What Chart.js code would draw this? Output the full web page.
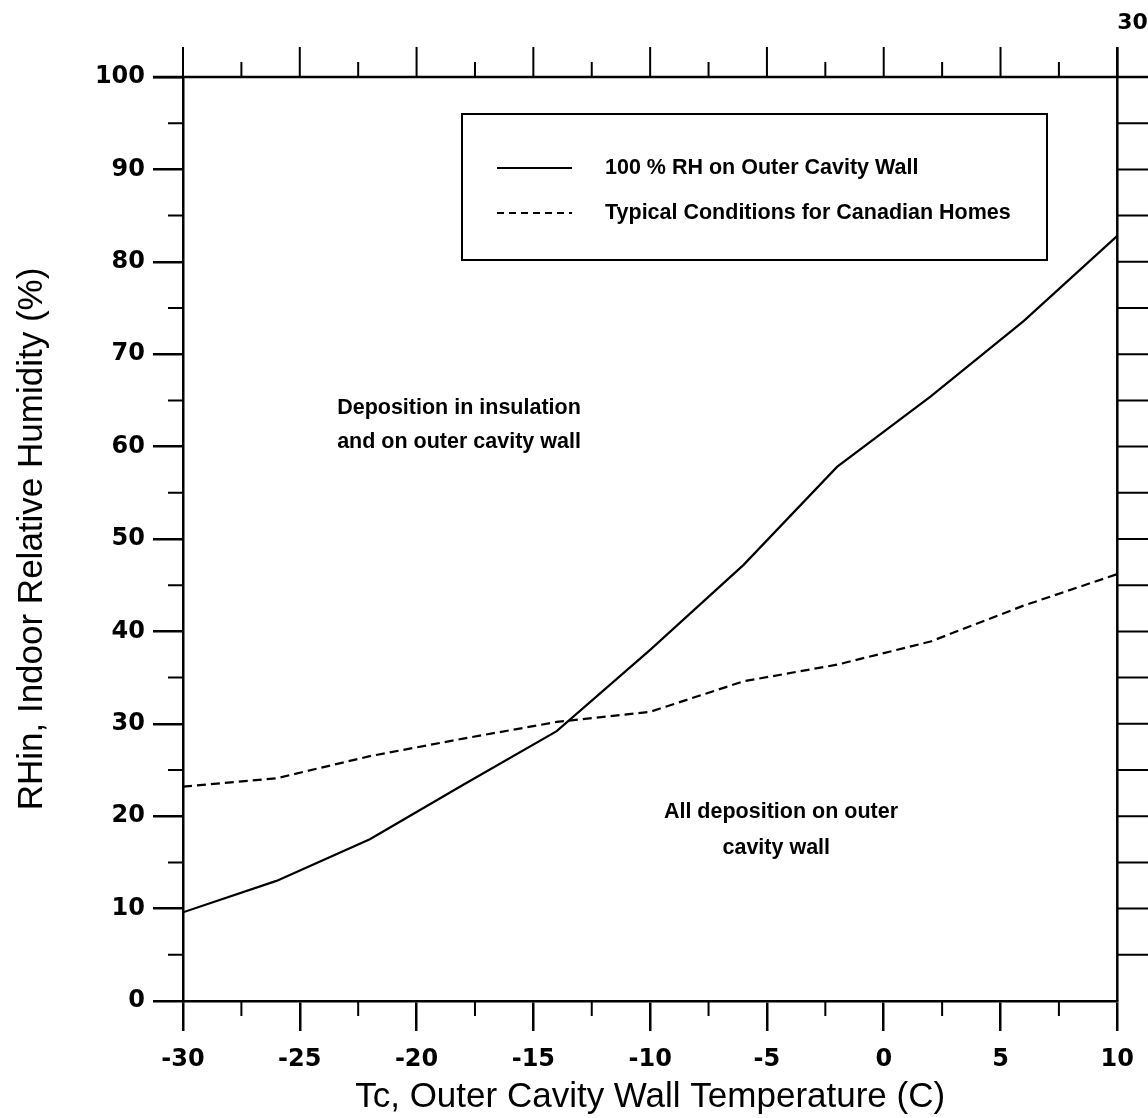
<!DOCTYPE html>
<html>
<head>
<meta charset="utf-8">
<title>Indoor RH limit vs outer cavity wall temperature</title>
<script src="https://cdn.jsdelivr.net/npm/chart.js@4.4.1/dist/chart.umd.min.js"></script>
<style>
  html, body { margin: 0; padding: 0; background: #fff; }
  #wrap { width: 1148px; height: 1118px; position: relative; }
</style>
</head>
<body>
<div id="wrap"><canvas id="rhChart"></canvas></div>
<script>
// outer cavity wall temperature (C)
const temps = [-30, -26, -22, -18, -14, -10, -6, -2, 2, 6, 10];
// indoor RH giving 100 % RH on the outer cavity wall
const rhSaturated = [9.6, 13.0, 17.5, 23.4, 29.2, 38.0, 47.2, 57.8, 65.4, 73.6, 82.8];
// typical indoor RH for Canadian homes
const rhTypical = [23.2, 24.1, 26.5, 28.4, 30.2, 31.3, 34.6, 36.4, 38.9, 42.8, 46.2];

const xTicks = [-30, -25, -20, -15, -10, -5, 0, 5, 10];
const yTicks = [0, 10, 20, 30, 40, 50, 60, 70, 80, 90, 100];
const seriesNames = ['100 % RH on Outer Cavity Wall', 'Typical Conditions for Canadian Homes'];

const tickFont = { family: 'DejaVu Sans', size: 24, weight: 'bold' };
const noteFont = 'bold 21.5px "Liberation Sans", Arial, sans-serif';

function toPoints(ys) {
    return temps.map((t, i) => ({ x: t, y: ys[i] }));
}

// ticks on the other three sides, minor ticks, legend box and region notes
const framePlugin = {
    id: 'frame',
    afterDraw(chart) {
        const ctx = chart.ctx;
        const xs = chart.scales.x;
        const ys = chart.scales.y;
        const area = chart.chartArea;
        ctx.save();
        ctx.strokeStyle = '#000';
        ctx.lineWidth = 2.5;

        // top and right borders
        ctx.beginPath();
        ctx.moveTo(area.left - 30, area.top);
        ctx.lineTo(area.right + 32, area.top);
        ctx.moveTo(area.right, area.top - 30);
        ctx.lineTo(area.right, area.bottom);
        ctx.stroke();

        ctx.lineWidth = 2;
        ctx.beginPath();
        for (let v = -30; v <= 10; v += 2.5) {
            const px = xs.getPixelForValue(v);
            const major = v % 5 === 0;
            // top side, pointing up
            ctx.moveTo(px, area.top);
            ctx.lineTo(px, area.top - (major ? 30 : 15));
            // bottom minor
            if (!major) {
                ctx.moveTo(px, area.bottom);
                ctx.lineTo(px, area.bottom + 15);
            }
        }
        for (let v = 5; v < 100; v += 10) {
            const py = ys.getPixelForValue(v);
            ctx.moveTo(area.left, py);
            ctx.lineTo(area.left - 15, py);
        }
        for (let v = 5; v < 100; v += 5) {
            const py = ys.getPixelForValue(v);
            ctx.moveTo(area.right, py);
            ctx.lineTo(area.right + 32, py);
        }
        ctx.stroke();

        ctx.fillStyle = '#000';
        ctx.font = 'bold 22px "DejaVu Sans", sans-serif';
        ctx.textAlign = 'left';
        ctx.textBaseline = 'middle';
        ctx.fillText('30', area.right, area.top - 54);

        // legend
        const lx = 462, ly = 114, lw = 585, lh = 146;
        ctx.lineWidth = 2;
        ctx.strokeRect(lx, ly, lw, lh);
        const rows = [ly + 54, ly + 99];
        ctx.beginPath();
        ctx.moveTo(lx + 35, rows[0]);
        ctx.lineTo(lx + 110, rows[0]);
        ctx.stroke();
        ctx.setLineDash([7, 5]);
        ctx.beginPath();
        ctx.moveTo(lx + 35, rows[1]);
        ctx.lineTo(lx + 110, rows[1]);
        ctx.stroke();
        ctx.setLineDash([]);
        ctx.font = 'bold 21.5px "Liberation Sans", Arial, sans-serif';
        ctx.fillText(seriesNames[0], lx + 143, rows[0]);
        ctx.fillText(seriesNames[1], lx + 143, rows[1]);

        // region notes
        ctx.font = noteFont;
        ctx.textAlign = 'left';
        ctx.fillText('Deposition in insulation', xs.getPixelForValue(-23.4), ys.getPixelForValue(64.2));
        ctx.fillText('and on outer cavity wall', xs.getPixelForValue(-23.4), ys.getPixelForValue(60.5));
        ctx.textAlign = 'center';
        ctx.fillText('All deposition on outer', xs.getPixelForValue(-4.4), ys.getPixelForValue(20.4));
        ctx.fillText('cavity wall', xs.getPixelForValue(-4.6), ys.getPixelForValue(16.6));
        ctx.restore();
    }
};

const ctx = document.getElementById('rhChart').getContext('2d');
const rhChart = new Chart(ctx, {
    type: 'scatter',
    data: {
        datasets: [{
            label: seriesNames[0],
            data: toPoints(rhSaturated),
            showLine: true,
            borderColor: '#000',
            borderWidth: 2.2,
            pointRadius: 0,
            tension: 0
        }, {
            label: seriesNames[1],
            data: toPoints(rhTypical),
            showLine: true,
            borderColor: '#000',
            borderWidth: 2.2,
            borderDash: [9, 5],
            pointRadius: 0,
            tension: 0
        }]
    },
    options: {
        responsive: true,
        maintainAspectRatio: false,
        animation: false,
        layout: {
            padding: { top: 77, right: 30, left: 0, bottom: 0 }
        },
        plugins: {
            legend: { display: false },
            tooltip: { enabled: false }
        },
        scales: {
            x: {
                type: 'linear',
                min: -30,
                max: 10,
                afterBuildTicks: scale => {
                    scale.ticks = xTicks.map(v => ({ value: v }));
                },
                afterFit: scale => { scale.height = 117; },
                ticks: {
                    font: tickFont,
                    color: '#000',
                    padding: 14,
                    maxRotation: 0
                },
                grid: {
                    drawOnChartArea: false,
                    tickLength: 30,
                    color: '#000',
                    lineWidth: 2.5
                },
                border: { color: '#000', width: 2.5 },
                title: {
                    display: true,
                    text: 'Tc, Outer Cavity Wall Temperature (C)',
                    color: '#000',
                    font: { family: 'Liberation Sans', size: 35 },
                    padding: { top: 0, bottom: 0 }
                }
            },
            y: {
                min: 0,
                max: 100,
                afterBuildTicks: scale => {
                    scale.ticks = yTicks.map(v => ({ value: v }));
                },
                afterFit: scale => { scale.width = 183; },
                ticks: {
                    font: tickFont,
                    color: '#000',
                    padding: 8
                },
                grid: {
                    drawOnChartArea: false,
                    tickLength: 30,
                    color: '#000',
                    lineWidth: 2.5
                },
                border: { color: '#000', width: 2.5 },
                title: {
                    display: true,
                    text: 'RHin, Indoor Relative Humidity (%)',
                    color: '#000',
                    font: { family: 'Liberation Sans', size: 35 },
                    padding: { top: 11, bottom: 0 }
                }
            }
        }
    },
    plugins: [framePlugin]
});
</script>
</body>
</html>
